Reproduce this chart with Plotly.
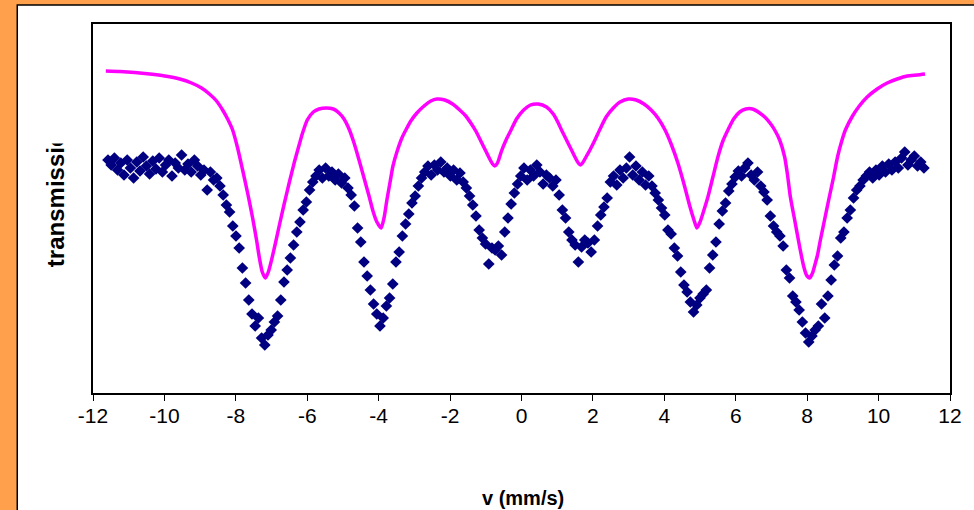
import numpy as np
import plotly.graph_objects as go

# ---- data -------------------------------------------------------------
# velocity grid of the measured spectrum (256 channels, evenly spaced)
V_FIRST, V_LAST, N_CHANNELS = -11.58, 11.27, 256
velocity = np.linspace(V_FIRST, V_LAST, N_CHANNELS)

transmission = [
    240, 235, 242, 230, 237, 225, 240, 232, 222, 238,
    229, 243, 234, 226, 239, 231, 242, 228, 235, 240,
    224, 237, 232, 245, 230, 236, 228, 240, 234, 225,
    230, 210, 228, 220, 222, 214, 205, 195, 188, 174,
    164, 152, 132, 117, 100, 86, 74, 82, 62, 55,
    65, 70, 78, 84, 100, 118, 130, 142, 155, 168,
    178, 190, 198, 210, 218, 224, 230, 222, 232, 224,
    228, 220, 226, 217, 222, 212, 205, 194, 172, 158,
    138, 124, 110, 96, 86, 74, 82, 94, 102, 116,
    138, 148, 164, 176, 186, 197, 204, 214, 222, 228,
    234, 225, 235, 230, 238, 228, 232, 224, 230, 220,
    227, 218, 212, 204, 195, 184, 170, 162, 156, 136,
    152, 150, 154, 145, 168, 182, 196, 207, 216, 224,
    232, 220, 230, 224, 235, 228, 216, 225, 222, 214,
    220, 205, 190, 182, 168, 160, 155, 138, 153, 160,
    157, 148, 160, 174, 185, 193, 202, 218, 224, 215,
    230, 222, 232, 243, 225, 234, 220, 228, 215, 224,
    214, 207, 200, 192, 185, 170, 166, 152, 144, 128,
    115, 108, 98, 88, 95, 102, 106, 110, 132, 145,
    158, 176, 189, 197, 209, 216, 223, 229, 224, 232,
    237, 225, 220, 228, 214, 208, 200, 184, 174, 168,
    164, 154, 130, 122, 104, 98, 90, 78, 67, 58,
    64, 70, 74, 96, 82, 104, 120, 135, 144, 162,
    168, 182, 190, 202, 210, 214, 220, 224, 228, 222,
    230, 225, 234, 228, 236, 230, 238, 232, 242, 248,
    235, 240, 244, 234, 238, 232,
]

# fitted sextet (offset upward)
fit_velocity = [
    -11.64, -11.25, -10.83, -10.41, -9.99, -9.57, -9.24, -8.96, -8.74, -8.54,
    -8.37, -8.23, -8.09, -7.95, -7.81, -7.67, -7.53, -7.42, -7.34, -7.26,
    -7.17, -7.09, -7.00, -6.89, -6.78, -6.64, -6.50, -6.36, -6.22, -6.14,
    -6.00, -5.83, -5.67, -5.47, -5.27, -5.11, -4.97, -4.83, -4.69, -4.55,
    -4.41, -4.27, -4.16, -4.05, -3.93, -3.85, -3.77, -3.68, -3.60, -3.49,
    -3.35, -3.21, -3.10, -2.93, -2.73, -2.54, -2.37, -2.15, -1.93, -1.73,
    -1.56, -1.42, -1.28, -1.14, -1.00, -0.89, -0.81, -0.75, -0.69, -0.64,
    -0.56, -0.42, -0.28, -0.14, 0.06, 0.25, 0.47, 0.70, 0.89, 1.03,
    1.12, 1.26, 1.40, 1.51, 1.59, 1.65, 1.71, 1.79, 1.93, 2.07,
    2.20, 2.37, 2.57, 2.76, 2.99, 3.21, 3.43, 3.63, 3.82, 4.02,
    4.19, 4.38, 4.55, 4.72, 4.83, 4.91, 5.00, 5.11, 5.22, 5.36,
    5.50, 5.64, 5.78, 5.94, 6.11, 6.28, 6.47, 6.67, 6.84, 6.98,
    7.09, 7.23, 7.37, 7.45, 7.53, 7.65, 7.79, 7.90, 7.98, 8.07,
    8.15, 8.23, 8.29, 8.37, 8.48, 8.62, 8.74, 8.85, 8.96, 9.07,
    9.27, 9.46, 9.68, 9.96, 10.24, 10.52, 10.80, 11.08, 11.30,
]
fit_transmission = [
    329, 328.5, 327.5, 326, 324, 321, 317, 312, 306, 299,
    290, 281, 270, 252, 230, 207, 182, 160, 142, 128,
    122, 128, 140, 157, 175, 197, 218, 238, 256, 266,
    280, 288, 291, 292, 291, 287, 281, 271, 257, 240,
    222, 204, 189, 178, 172, 182, 200, 218, 234, 248,
    262, 272, 279, 287, 294, 299, 301, 300, 296, 290,
    284, 277, 269, 259, 249, 241, 236, 234, 236, 240,
    249, 261, 271, 281, 290, 295, 296, 293, 286, 277,
    270, 260, 250, 242, 237, 235, 237, 242, 251, 261,
    271, 283, 292, 298, 301, 300, 296, 290, 282, 270,
    256, 237, 216, 193, 180, 172, 178, 190, 203, 223,
    243, 259, 270, 281, 288, 291, 291, 287, 282, 276,
    270, 260, 243, 225, 203, 180, 153, 134, 125, 122,
    127, 137, 145, 160, 179, 203, 223, 243, 258, 270,
    284, 294, 303, 311, 317, 321, 324, 325, 326,
]

X_TICKS = [-12, -10, -8, -6, -4, -2, 0, 2, 4, 6, 8, 10, 12]
X_TICK_LABELS = ["-12", "-10", "-8", "-6", "-4", "-2", "0", "2", "4", "6", "8", "10", "12"]
X_TITLE = "v (mm/s)"
Y_TITLE = "transmission"

# ---- figure -----------------------------------------------------------
W, H = 974, 510
ML, MR, MT, MB = 93, 21, 24, 117
PW, PH = W - ML - MR, H - MT - MB


def px_x(p):
    return (p - ML) / PW


def px_y(p):
    return (H - MB - p) / PH


FONT = "Liberation Sans, Arial, sans-serif"

fig = go.Figure()
fig.add_trace(go.Scatter(
    x=fit_velocity, y=fit_transmission, mode="lines",
    line=dict(color="#FF00FF", width=3.5, shape="spline", smoothing=0.6),
    name="fit", showlegend=False,
))
fig.add_trace(go.Scatter(
    x=velocity, y=transmission, mode="markers",
    marker=dict(symbol="diamond", size=9, color="#000080",
                line=dict(width=0)),
    name="data", showlegend=False,
))

fig.update_layout(
    width=W, height=H,
    margin=dict(l=ML, r=MR, t=MT, b=MB),
    paper_bgcolor="#FFA04C",
    plot_bgcolor="white",
    font=dict(family=FONT, color="black"),
    showlegend=False,
    shapes=[dict(
        type="rect", xref="paper", yref="paper", layer="below",
        x0=px_x(17), x1=px_x(1000), y0=px_y(540), y1=px_y(5),
        fillcolor="white", line=dict(color="black", width=1.5),
    )],
    annotations=[
        dict(text="<b>" + X_TITLE + "</b>", xref="paper", yref="paper",
             x=px_x(525), y=px_y(498), xanchor="center", yanchor="middle",
             showarrow=False, font=dict(family=FONT, size=20, color="black")),
        dict(text="<b>" + Y_TITLE + "</b>", xref="paper", yref="paper",
             x=px_x(55), y=px_y(193), xanchor="center", yanchor="middle",
             textangle=-90, showarrow=False,
             font=dict(family=FONT, size=24, color="black")),
        dict(text=" ", xref="paper", yref="paper",
             x=px_x(55), y=px_y(144), xanchor="center", yanchor="bottom",
             showarrow=False, bgcolor="white", width=36, height=40,
             font=dict(size=10)),
    ],
)

fig.update_xaxes(
    range=[-12, 12], tickmode="array", tickvals=X_TICKS, ticktext=X_TICK_LABELS,
    ticks="outside", ticklen=6, tickwidth=1, tickcolor="black",
    ticklabelstandoff=-3,
    tickfont=dict(family=FONT, size=21, color="black"),
    showline=True, linecolor="black", linewidth=2, mirror=True,
    showgrid=False, zeroline=False,
)
fig.update_yaxes(
    range=[7, 376], showticklabels=False, ticks="",
    showline=True, linecolor="black", linewidth=2, mirror=True,
    showgrid=False, zeroline=False,
)

fig.write_html("out.html")
